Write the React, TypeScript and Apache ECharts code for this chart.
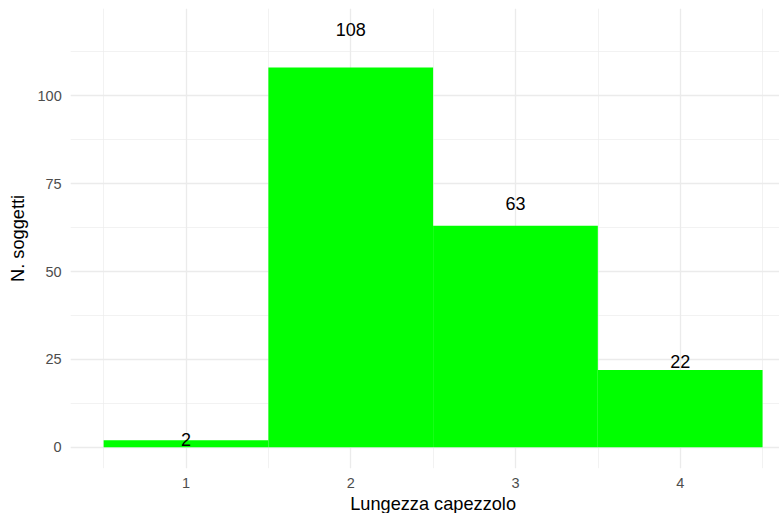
import React, { useEffect, useRef } from "react";
import * as echarts from "echarts";

const categories = [1, 2, 3, 4];
const counts = [2, 108, 63, 22];
const xTicks = [1, 2, 3, 4];
const xMinor = [0.5, 1.5, 2.5, 3.5, 4.5];
const yTicks = [0, 25, 50, 75, 100];
const yMinor = [12.5, 37.5, 62.5, 87.5, 112.5];
const xTitle = "Lungezza capezzolo";
const yTitle = "N. soggetti";

const FONT = '"Liberation Sans", Arial, Helvetica, sans-serif';
const GRID = "#EBEBEB";

export default function App() {
  const ref = useRef<HTMLDivElement>(null);
  useEffect(() => {
    if (!ref.current) return;
    const chart = echarts.init(ref.current, undefined, { renderer: "svg" });
    const top = Math.max(...counts) * 1.1;
    const yMin = -0.05 * top;
    const yMax = top * 1.05;
    const xLo = Math.min(...categories) - 0.5;
    const xHi = Math.max(...categories) + 0.5;
    const xr = xHi - xLo;
    const data = categories.map((c, i) => [c, counts[i]]);

    chart.setOption({
      animation: false,
      backgroundColor: "#FFFFFF",
      textStyle: { fontFamily: FONT },
      grid: {
        left: 70.7,
        top: 8.7,
        right: -16.5,
        bottom: 44.8,
        containLabel: false,
        outerBoundsMode: "none",
      },
      xAxis: {
        type: "value",
        min: xLo - 0.05 * xr,
        max: xHi + 0.05 * xr,
        axisLine: { show: false, onZero: false },
        axisTick: { show: false },
        splitLine: { show: false },
        axisLabel: {
          customValues: xTicks,
          color: "#4D4D4D",
          fontSize: 14.5,
          fontFamily: FONT,
          margin: 7,
        },
        name: xTitle,
        nameLocation: "middle",
        nameGap: 25,
        nameTextStyle: { color: "#000000", fontSize: 18.2, fontFamily: FONT },
      },
      yAxis: {
        type: "value",
        min: yMin,
        max: yMax,
        axisLine: { show: false, onZero: false },
        axisTick: { show: false },
        splitLine: { show: false },
        axisLabel: {
          customValues: yTicks,
          color: "#4D4D4D",
          fontSize: 14.5,
          fontFamily: FONT,
          margin: 9,
        },
        name: yTitle,
        nameLocation: "middle",
        nameRotate: 90,
        nameGap: 39,
        nameTextStyle: { color: "#000000", fontSize: 18.2, fontFamily: FONT },
      },
      series: [
        {
          type: "line",
          z: 1,
          data: [[xLo, 0]],
          showSymbol: false,
          symbolSize: 0,
          lineStyle: { width: 0 },
          silent: true,
          markLine: {
            z: 1,
            silent: true,
            symbol: ["none", "none"],
            label: { show: false },
            emphasis: { disabled: true },
            data: [
              ...yMinor.map((v) => ({ yAxis: v, lineStyle: { color: GRID, width: 0.65, type: "solid" } })),
              ...xMinor.map((v) => ({ xAxis: v, lineStyle: { color: GRID, width: 0.65, type: "solid" } })),
              ...yTicks.map((v) => ({ yAxis: v, lineStyle: { color: GRID, width: 1.3, type: "solid" } })),
              ...xTicks.map((v) => ({ xAxis: v, lineStyle: { color: GRID, width: 1.3, type: "solid" } })),
            ],
          },
        },
        {
          type: "custom",
          z: 10,
          data,
          renderItem: (params: any, api: any) => {
            const x = api.value(0);
            const v = api.value(1);
            const p0 = api.coord([x - 0.5, 0]);
            const p1 = api.coord([x + 0.5, v]);
            return {
              type: "rect",
              shape: { x: p0[0], y: p1[1], width: p1[0] - p0[0], height: p0[1] - p1[1] },
              style: { fill: "#00FF00" },
            };
          },
        },
        {
          type: "custom",
          z: 11,
          data,
          renderItem: (params: any, api: any) => {
            const x = api.value(0);
            const v = api.value(1);
            const p = api.coord([x, v * 1.1]);
            return {
              type: "text",
              x: p[0],
              y: p[1],
              style: {
                text: String(v),
                fill: "#000000",
                font: `18px ${FONT}`,
                align: "center",
                verticalAlign: "middle",
              },
            };
          },
        },
      ],
    });
    return () => chart.dispose();
  }, []);
  return (
    <div
      ref={ref}
      style={{ position: "fixed", left: 0, top: 0, width: 779, height: 513, overflow: "hidden" }}
    />
  );
}
